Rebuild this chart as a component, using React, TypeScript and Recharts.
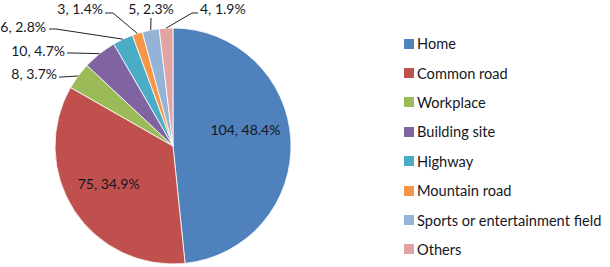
import React from "react";
import { PieChart, Pie, Cell, Legend } from "recharts";

const categories = [
  "Home",
  "Common road",
  "Workplace",
  "Building site",
  "Highway",
  "Mountain road",
  "Sports or entertainment field",
  "Others",
];
const counts = [104, 75, 8, 10, 6, 3, 5, 4];
const percentLabels = ["48.4%", "34.9%", "3.7%", "4.7%", "2.8%", "1.4%", "2.3%", "1.9%"];

const COLORS = [
  "#4F81BD",
  "#C0504D",
  "#9BBB59",
  "#8064A2",
  "#4BACC6",
  "#F79646",
  "#95B3D7",
  "#E1A4A3",
];

const FONT = "Lato, 'Open Sans', sans-serif";
const TEXT = "#15171f";

// where each outside label sits (text anchor point + leader start)
const LABEL_LAYOUT: Record<number, { x: number; y: number; anchor: "start" | "middle" | "end"; lx: number; ly: number; ex: number }> = {
  2: { x: 57, y: 73, anchor: "end", lx: 59, ly: 77, ex: 62 },
  3: { x: 65, y: 50, anchor: "end", lx: 67, ly: 53, ex: 72 },
  4: { x: 46, y: 26, anchor: "end", lx: 49, ly: 29, ex: 56 },
  5: { x: 103, y: 8, anchor: "end", lx: 105, ly: 13, ex: 113 },
  6: { x: 151, y: 8, anchor: "middle", lx: 151, ly: 18, ex: 151 },
  7: { x: 200, y: 8, anchor: "start", lx: 198, ly: 13, ex: 192 },
};

// inside labels: radius fraction and angle nudge
const INSIDE: Record<number, { r: number; da: number }> = {
  0: { r: 0.63, da: 10 },
  1: { r: 0.63, da: -3 },
};

const data = categories.map((name, i) => ({
  name,
  value: counts[i],
  pct: percentLabels[i],
}));

const RAD = Math.PI / 180;

function renderLabel(props: any) {
  const { cx, cy, midAngle, outerRadius, index } = props;
  const text = `${counts[index]}, ${percentLabels[index]}`;
  if (INSIDE[index]) {
    const r = outerRadius * INSIDE[index].r;
    const a = midAngle + INSIDE[index].da;
    const x = cx + r * Math.cos(-a * RAD);
    const y = cy + r * Math.sin(-a * RAD);
    return (
      <text x={x} y={y} textAnchor="middle" dominantBaseline="central" fill={TEXT} fontSize={14} fontFamily={FONT}>
        {text}
      </text>
    );
  }
  const l = LABEL_LAYOUT[index];
  const px = cx + outerRadius * Math.cos(-midAngle * RAD);
  const py = cy + outerRadius * Math.sin(-midAngle * RAD);
  return (
    <g>
      <polyline
        points={`${l.lx},${l.ly} ${l.ex},${l.ly} ${px},${py}`}
        fill="none"
        stroke="#222"
        strokeWidth={1}
      />
      <text x={l.x} y={l.y} textAnchor={l.anchor} dominantBaseline="central" fill={TEXT} fontSize={14} fontFamily={FONT}>
        {text}
      </text>
    </g>
  );
}

function LegendContent() {
  return (
    <div style={{ fontFamily: FONT, fontSize: 14.6, color: TEXT }}>
      {categories.map((c, i) => (
        <div key={c} style={{ display: "flex", alignItems: "center", height: 29.4, whiteSpace: "nowrap" }}>
          <span
            style={{
              display: "inline-block",
              width: 8,
              height: 8,
              background: COLORS[i],
              border: "1px solid " + COLORS[i],
              marginRight: 3,
            }}
          />
          {c}
        </div>
      ))}
    </div>
  );
}

export default function App() {
  return (
    <div style={{ position: "absolute", left: 0, top: 0, width: 610, height: 267, background: "#fff" }}>
      <PieChart width={610} height={267} margin={{ top: 0, right: 0, bottom: 0, left: 0 }}>
        <Pie
          data={data}
          dataKey="value"
          nameKey="name"
          cx={173}
          cy={146}
          outerRadius={118}
          startAngle={90}
          endAngle={-270}
          stroke="#ffffff"
          strokeWidth={0.8}
          label={renderLabel}
          labelLine={false}
          isAnimationActive={false}
        >
          {data.map((d, i) => (
            <Cell key={d.name} fill={COLORS[i]} />
          ))}
        </Pie>
        <Legend
          layout="vertical"
          content={<LegendContent />}
          wrapperStyle={{ position: "absolute", left: 404, top: 29, width: 206 }}
        />
      </PieChart>
    </div>
  );
}
